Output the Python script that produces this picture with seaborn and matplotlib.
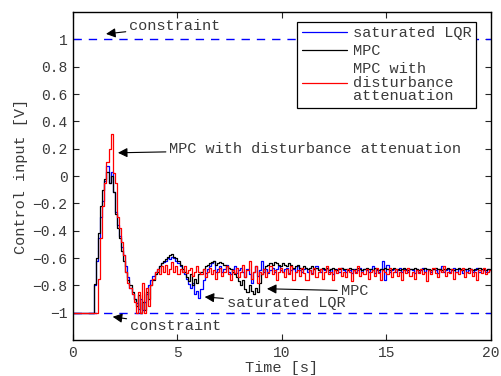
import numpy as np
import pandas as pd
import matplotlib
matplotlib.use("Agg")
import matplotlib.pyplot as plt
from matplotlib.ticker import FuncFormatter, FixedLocator
import seaborn as sns

# ---------------- data (dt = 0.1 s, 0 .. 20 s) ----------------
dt = 0.1
lqr = [
    -1, -1, -1, -1, -1, -1, -1, -1, -1, -1,
    -0.80, -0.62, -0.45, -0.30, -0.18, -0.04, 0.07, -0.05, 0.03, -0.12,
    -0.26, -0.36, -0.44, -0.52, -0.58, -0.66, -0.74, -0.82, -0.86, -0.90,
    -0.93, -0.97, -0.90, -0.98, -0.92, -0.86, -0.80, -0.76, -0.73, -0.70,
    -0.68, -0.66, -0.64, -0.63, -0.62, -0.60, -0.61, -0.59, -0.60, -0.62,
    -0.64, -0.66, -0.70, -0.72, -0.75, -0.79, -0.82, -0.78, -0.86, -0.84,
    -0.89, -0.83, -0.76, -0.71, -0.68, -0.66, -0.64, -0.62, -0.70, -0.68,
    -0.66, -0.70, -0.68, -0.65, -0.70, -0.72, -0.68, -0.66, -0.71, -0.69,
    -0.67, -0.70, -0.74, -0.68, -0.72, -0.78, -0.70, -0.66, -0.73, -0.69,
    -0.62, -0.70, -0.68, -0.71, -0.69, -0.67, -0.70, -0.68, -0.66, -0.69,
    -0.70, -0.68, -0.67, -0.71, -0.69, -0.68, -0.70, -0.66, -0.69, -0.70,
    -0.68, -0.67, -0.70, -0.69, -0.71, -0.68, -0.66, -0.69, -0.70, -0.68,
    -0.69, -0.67, -0.70, -0.68, -0.72, -0.69, -0.68, -0.70, -0.67, -0.69,
    -0.70, -0.68, -0.69, -0.71, -0.68, -0.70, -0.69, -0.67, -0.70, -0.68,
    -0.69, -0.70, -0.68, -0.66, -0.71, -0.69, -0.70, -0.68, -0.62, -0.76,
    -0.65, -0.70, -0.69, -0.68, -0.70, -0.69, -0.67, -0.70, -0.68, -0.69,
    -0.70, -0.68, -0.69, -0.71, -0.68, -0.70, -0.69, -0.67, -0.70, -0.68,
    -0.69, -0.70, -0.68, -0.69, -0.71, -0.68, -0.66, -0.70, -0.69, -0.68,
    -0.70, -0.69, -0.67, -0.70, -0.68, -0.69, -0.71, -0.68, -0.70, -0.69,
    -0.68, -0.70, -0.69, -0.67, -0.70, -0.68, -0.69, -0.70, -0.68, -0.69,
    -0.69,
]
mpc = [
    -1, -1, -1, -1, -1, -1, -1, -1, -1, -1,
    -0.79, -0.60, -0.42, -0.22, -0.10, -0.02, 0.03, -0.05, 0.00, -0.12,
    -0.28, -0.38, -0.45, -0.55, -0.62, -0.70, -0.76, -0.80, -0.85, -0.90,
    -0.95, -0.87, -1.00, -0.92, -0.98, -0.85, -0.90, -0.80, -0.76, -0.72,
    -0.70, -0.66, -0.64, -0.62, -0.61, -0.59, -0.58, -0.57, -0.59, -0.60,
    -0.62, -0.65, -0.68, -0.70, -0.74, -0.77, -0.72, -0.80, -0.75, -0.78,
    -0.72, -0.70, -0.68, -0.66, -0.65, -0.64, -0.63, -0.62, -0.65, -0.64,
    -0.63, -0.64, -0.65, -0.66, -0.67, -0.68, -0.70, -0.72, -0.74, -0.77,
    -0.80, -0.76, -0.83, -0.85, -0.80, -0.84, -0.86, -0.82, -0.85, -0.78,
    -0.72, -0.68, -0.66, -0.65, -0.64, -0.65, -0.63, -0.64, -0.65, -0.66,
    -0.64, -0.65, -0.66, -0.64, -0.65, -0.67, -0.66, -0.65, -0.67, -0.68,
    -0.66, -0.67, -0.68, -0.67, -0.66, -0.68, -0.67, -0.69, -0.68, -0.67,
    -0.68, -0.67, -0.69, -0.68, -0.67, -0.68, -0.69, -0.68, -0.67, -0.68,
    -0.68, -0.69, -0.67, -0.68, -0.69, -0.68, -0.67, -0.68, -0.69, -0.68,
    -0.67, -0.68, -0.68, -0.69, -0.67, -0.68, -0.69, -0.68, -0.68, -0.67,
    -0.68, -0.69, -0.68, -0.67, -0.68, -0.68, -0.69, -0.68, -0.67, -0.68,
    -0.69, -0.68, -0.68, -0.67, -0.68, -0.69, -0.68, -0.68, -0.67, -0.68,
    -0.68, -0.69, -0.68, -0.67, -0.68, -0.68, -0.69, -0.68, -0.68, -0.67,
    -0.68, -0.68, -0.69, -0.68, -0.67, -0.68, -0.69, -0.68, -0.68, -0.67,
    -0.68, -0.69, -0.68, -0.68, -0.67, -0.68, -0.68, -0.69, -0.68, -0.68,
    -0.68,
]
mpc_da = [
    -1, -1, -1, -1, -1, -1, -1, -1, -1, -1,
    -1, -1, -0.75, -0.45, -0.22, -0.05, 0.10, 0.20, 0.31, 0.02,
    -0.05, -0.30, -0.38, -0.48, -0.58, -0.70, -0.78, -0.82, -0.86, -0.92,
    -1.00, -0.85, -1.00, -0.78, -1.00, -0.82, -0.95, -0.80, -0.75, -0.70,
    -0.68, -0.72, -0.66, -0.70, -0.65, -0.72, -0.68, -0.63, -0.70, -0.66,
    -0.72, -0.68, -0.70, -0.66, -0.71, -0.69, -0.67, -0.73, -0.70, -0.66,
    -0.70, -0.72, -0.68, -0.74, -0.70, -0.67, -0.72, -0.69, -0.75, -0.70,
    -0.67, -0.73, -0.70, -0.66, -0.72, -0.76, -0.69, -0.71, -0.67, -0.74,
    -0.70, -0.65, -0.74, -0.69, -0.62, -0.75, -0.70, -0.66, -0.78, -0.70,
    -0.72, -0.68, -0.74, -0.70, -0.66, -0.72, -0.69, -0.76, -0.70, -0.67,
    -0.70, -0.74, -0.68, -0.72, -0.66, -0.76, -0.70, -0.69, -0.73, -0.67,
    -0.71, -0.76, -0.76, -0.69, -0.72, -0.67, -0.74, -0.70, -0.68, -0.75,
    -0.70, -0.66, -0.72, -0.70, -0.76, -0.69, -0.71, -0.67, -0.73, -0.70,
    -0.74, -0.68, -0.70, -0.77, -0.69, -0.71, -0.66, -0.73, -0.70, -0.72,
    -0.68, -0.75, -0.70, -0.69, -0.73, -0.67, -0.71, -0.76, -0.69, -0.70,
    -0.72, -0.67, -0.74, -0.70, -0.68, -0.73, -0.70, -0.76, -0.69, -0.71,
    -0.67, -0.73, -0.70, -0.75, -0.69, -0.71, -0.68, -0.72, -0.70, -0.77,
    -0.69, -0.72, -0.67, -0.71, -0.74, -0.69, -0.70, -0.66, -0.73, -0.70,
    -0.71, -0.68, -0.75, -0.70, -0.72, -0.69, -0.67, -0.74, -0.70, -0.71,
    -0.68, -0.73, -0.70, -0.76, -0.69, -0.71, -0.67, -0.72, -0.70, -0.69,
    -0.70,
]
series_names = ["saturated LQR", "MPC", "MPC with\ndisturbance\nattenuation"]
series_colors = ["#0000ff", "#000000", "#ff0000"]
constraint_levels = [1, -1]
x_ticks = [0, 5, 10, 15, 20]
y_ticks = [-1, -0.8, -0.6, -0.4, -0.2, 0, 0.2, 0.4, 0.6, 0.8, 1]

# ---------------- build long-form table ----------------
t = np.arange(len(lqr)) * dt
frames = []
for name, vals in zip(series_names, [lqr, mpc, mpc_da]):
    frames.append(pd.DataFrame({"time": t, "u": vals, "series": name}))
df = pd.concat(frames, ignore_index=True)

# ---------------- style ----------------
sns.set_style("ticks")
plt.rcParams["font.family"] = ["Liberation Mono", "DejaVu Sans Mono"]
plt.rcParams["font.size"] = 10
plt.rcParams["axes.unicode_minus"] = True
TXT = "#3a3a3a"

fig = plt.figure(figsize=(5.01, 3.76), dpi=100)
ax = fig.add_axes([0.1457, 0.0957, 0.8343, 0.8723])

sns.lineplot(data=df, x="time", y="u", hue="series", hue_order=series_names,
             palette=dict(zip(series_names, series_colors)),
             drawstyle="steps-post", estimator=None, sort=False,
             linewidth=0.9, ax=ax)

for lvl in constraint_levels:
    ax.axhline(lvl, color="#0000ff", lw=1.0, ls=(0, (6, 5)), zorder=1)

ax.set_xlim(0, 20)
ax.set_ylim(-1.2, 1.2)
ax.xaxis.set_major_locator(FixedLocator(x_ticks))
ax.yaxis.set_major_locator(FixedLocator(y_ticks))


def fmt(v, pos):
    s = "%g" % round(v, 6)
    if s in ("-0", "0"):
        return "0"
    return s.replace("-", "\u2212")


ax.yaxis.set_major_formatter(FuncFormatter(fmt))
ax.xaxis.set_major_formatter(FuncFormatter(fmt))
ax.tick_params(direction="in", top=True, right=True, length=4, width=0.8,
               labelsize=10.5, labelcolor=TXT, pad=4)
for sp in ax.spines.values():
    sp.set_linewidth(1.0)
    sp.set_color("black")

ax.set_xlabel("Time [s]", fontsize=11, color=TXT, labelpad=1)
ax.set_ylabel("Control input [V]", fontsize=11, color=TXT, labelpad=3)

# ---------------- annotations ----------------
ap = dict(arrowstyle="-|>", color="black", lw=0.8, mutation_scale=14,
          shrinkA=0, shrinkB=0)
FS = 11
ax.annotate("constraint", xy=(1.58, 1.04), xytext=(2.68, 1.095),
            fontsize=FS, color=TXT, va="center", ha="left", arrowprops=ap)
ax.annotate("constraint", xy=(1.9, -1.03), xytext=(2.72, -1.095),
            fontsize=FS, color=TXT, va="center", ha="left", arrowprops=ap)
ax.annotate("MPC with disturbance attenuation", xy=(2.15, 0.17),
            xytext=(4.6, 0.197), fontsize=FS, color=TXT, va="center",
            ha="left", arrowprops=ap)
ax.annotate("saturated LQR", xy=(6.3, -0.885), xytext=(7.35, -0.93),
            fontsize=FS, color=TXT, va="center", ha="left", arrowprops=ap)
ax.annotate("MPC", xy=(9.28, -0.825), xytext=(12.8, -0.84),
            fontsize=FS, color=TXT, va="center", ha="left", arrowprops=ap)

# ---------------- legend ----------------
leg = ax.legend(loc="upper right", bbox_to_anchor=(0.964, 0.97),
                borderaxespad=0, fontsize=11, frameon=True, fancybox=False,
                framealpha=1, edgecolor="black", handlelength=3.0,
                handletextpad=0.35, borderpad=0.3, labelspacing=0.25,
                title=None)
leg.get_frame().set_linewidth(0.9)
for txt in leg.get_texts():
    txt.set_color(TXT)
    txt.set_linespacing(0.95)

fig.savefig("out.png", dpi=100)
